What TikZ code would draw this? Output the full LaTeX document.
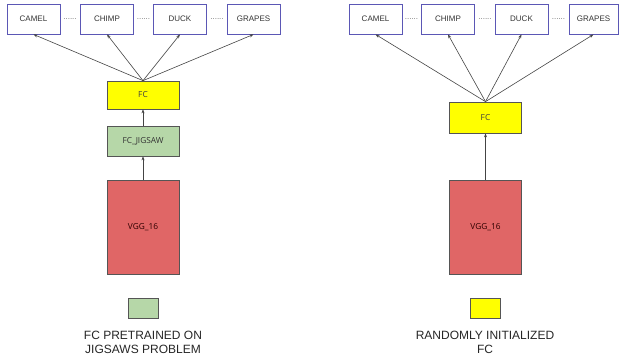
\documentclass[tikz,border=0pt]{standalone}
\usepackage{fontspec}
\setmainfont{Liberation Sans}
\newfontfamily\innerfont{Open Sans}
\usetikzlibrary{arrows.meta}
\definecolor{boxblue}{HTML}{5B57B5}
\definecolor{fcyellow}{HTML}{FFFF00}
\definecolor{jiggreen}{HTML}{B6D7A8}
\definecolor{vggred}{HTML}{E06666}
\definecolor{edgegray}{HTML}{555555}
\definecolor{arrowgray}{HTML}{444444}
\tikzset{
  classbox/.style={draw=boxblue, line width=0.8pt, fill=white, minimum width=53pt, minimum height=30pt, inner sep=0pt, font=\fontsize{8}{9}\selectfont, text=black!80},
  layerbox/.style={draw=edgegray, line width=0.7pt, minimum width=72pt, inner sep=0pt, font=\innerfont\fontsize{8.3}{9}\selectfont},
  fcbox/.style={layerbox, fill=fcyellow, text=black!75},
  jigbox/.style={layerbox, fill=jiggreen, text=black!80},
  vggbox/.style={layerbox, fill=vggred, text=black!70!red!60!black, minimum height=94pt},
  legbox/.style={draw=edgegray, line width=0.7pt, minimum width=30pt, minimum height=20pt, inner sep=0pt},
  dotlbl/.style={font=\fontsize{8}{9}\selectfont, text=black!55, inner sep=0pt},
  legtext/.style={font=\fontsize{12}{14}\selectfont, text=black!85, align=center, inner sep=0pt},
  conn/.style={draw=arrowgray, line width=0.6pt, -{Stealth[length=4pt,width=3pt]}}
}
\begin{document}
\begin{tikzpicture}[x=1pt,y=-1pt]
\useasboundingbox (0,0) rectangle (620,360);
% ---------- left panel ----------
\node[classbox] (lcamel) at (33.5,19) {CAMEL};
\node[classbox] (lchimp) at (107,19) {CHIMP};
\node[classbox] (lduck)  at (180,19) {DUCK};
\node[classbox] (lgrapes) at (253.5,19) {GRAPES};
\node[dotlbl] (ld1) at (70,19) {......};
\node[dotlbl] (ld2) at (143.5,19) {......};
\node[dotlbl] (ld3) at (217,19) {......};
\node[fcbox, minimum height=28pt] (lfc) at (143,95) {FC};
\node[jigbox, minimum height=30pt] (ljig) at (143,141) {FC\_JIGSAW};
\node[vggbox] (lvgg) at (143,227) {VGG\_16};
\node[legbox, fill=jiggreen] (lleg) at (143,308) {};
\node[legtext] (llegt) at (143,342) {FC PRETRAINED ON\\JIGSAWS PROBLEM};
\draw[conn] (lvgg.north) -- (ljig.south);
\draw[conn] (ljig.north) -- (lfc.south);
\foreach \t in {lcamel,lchimp,lduck,lgrapes}
  \draw[conn] (lfc.north) -- (\t.south);
% ---------- right panel ----------
\node[classbox] (rcamel) at (375.5,19) {CAMEL};
\node[classbox] (rchimp) at (448,19) {CHIMP};
\node[classbox] (rduck)  at (521.5,19) {DUCK};
\node[classbox, minimum width=49pt] (rgrapes) at (593.5,19) {GRAPES};
\node[dotlbl] (rd1) at (411.5,19) {......};
\node[dotlbl] (rd2) at (485,19) {......};
\node[dotlbl] (rd3) at (558.5,19) {......};
\node[fcbox, minimum height=31pt] (rfc) at (485.5,117.5) {FC};
\node[vggbox] (rvgg) at (485.5,227) {VGG\_16};
\node[legbox, fill=fcyellow] (rleg) at (485,308) {};
\node[legtext] (rlegt) at (485,342) {RANDOMLY INITIALIZED\\FC};
\draw[conn] (rvgg.north) -- (rfc.south);
\foreach \t in {rcamel,rchimp,rduck,rgrapes}
  \draw[conn] (rfc.north) -- (\t.south);
\end{tikzpicture}
\end{document}
